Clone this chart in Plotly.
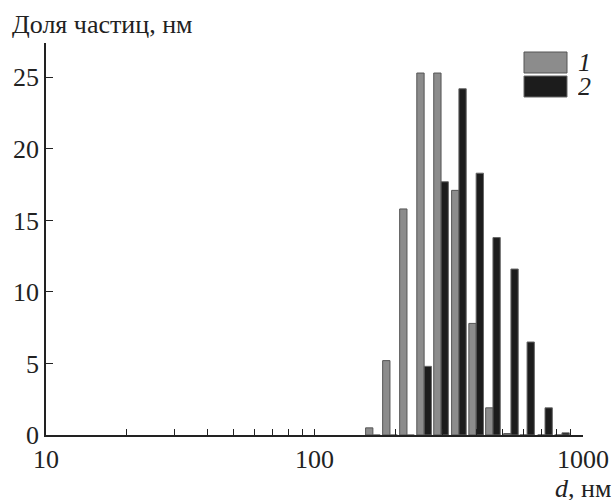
import numpy as np
import plotly.graph_objects as go

# bin centres (nm)
d_nm = [165, 191, 221, 256, 296, 345, 400, 462, 539, 619, 722, 835]
share_1 = [0.5, 5.2, 15.8, 25.3, 25.3, 17.1, 7.8, 1.9, 0.1, 0, 0, 0]
share_2 = [0, 0, 0, 4.8, 17.7, 24.2, 18.3, 13.8, 11.6, 6.5, 1.9, 0.15]
series_names = ["1", "2"]
x_tick_vals = [10, 100, 1000]
x_minor_vals = [v * m for m in (10, 100) for v in range(2, 10)]
y_tick_vals = [0, 5, 10, 15, 20, 25]

FONT = "Liberation Serif, Times New Roman, serif"
FS = 26
lx = np.log10(d_nm)
BW = 0.0272

fig = go.Figure()
fig.add_trace(go.Bar(x=lx, y=share_1, name=series_names[0], width=BW, offset=-BW,
                     marker=dict(color="#8c8c8c", line=dict(color="#555555", width=1)),
                     showlegend=False))
fig.add_trace(go.Bar(x=lx, y=share_2, name=series_names[1], width=BW, offset=0,
                     marker=dict(color="#1c1c1c", line=dict(color="#666666", width=1)),
                     showlegend=False))

fig.update_layout(
    width=612, height=501,
    margin=dict(l=46, r=29, t=43, b=66, autoexpand=False),
    paper_bgcolor="white", plot_bgcolor="white",
    barmode="overlay",
    font=dict(family=FONT, size=FS, color="#222222"),
    xaxis=dict(range=[1, 3], tickvals=np.log10(x_tick_vals),
               ticktext=[str(v) for v in x_tick_vals], automargin=False,
               ticks="inside", ticklen=6, tickcolor="#222", showline=True,
               linecolor="#222", linewidth=1.5, showgrid=False, zeroline=False,
               tickfont=dict(family=FONT, size=FS),
               minor=dict(tickvals=np.log10(x_minor_vals), ticks="inside", ticklen=6,
                          tickcolor="#222", showgrid=False)),
    yaxis=dict(range=[0, 27.4], tickvals=y_tick_vals, ticks="inside", ticklen=7,
               tickcolor="#222", showline=True, linecolor="#222", linewidth=1.5,
               showgrid=False, zeroline=False, automargin=False,
               tickfont=dict(family=FONT, size=FS)),
)

# axis titles
fig.add_annotation(x=0, y=1, xref="paper", yref="paper", xshift=-36, yshift=19,
                   text="Доля частиц, нм", showarrow=False, xanchor="left",
                   yanchor="middle", font=dict(family=FONT, size=FS))
fig.add_annotation(x=1, y=0, xref="paper", yref="paper", xshift=29, yshift=-53,
                   text="<i>d</i>, нм", showarrow=False, xanchor="right",
                   yanchor="middle", height=24, borderpad=0,
                   font=dict(family=FONT, size=FS))

# legend drawn manually
leg_colors = [("#8c8c8c", "#555555"), ("#1c1c1c", "#666666")]
for i, (name, (fc, lc)) in enumerate(zip(series_names, leg_colors)):
    y_top = 1 - (52 - 43 + i * 24) / 392
    y_bot = y_top - 21 / 392
    fig.add_shape(type="rect", xref="paper", yref="paper",
                  x0=(524 - 46) / 537, x1=(567 - 46) / 537, y0=y_bot, y1=y_top,
                  fillcolor=fc, line=dict(color=lc, width=1))
    fig.add_annotation(x=(577 - 46) / 537, y=(y_top + y_bot) / 2, xref="paper",
                       yref="paper", text=f"<i>{name}</i>", showarrow=False,
                       xanchor="left", yanchor="middle", height=21, borderpad=0,
                       font=dict(family=FONT, size=FS))

fig.write_html("out.html")
